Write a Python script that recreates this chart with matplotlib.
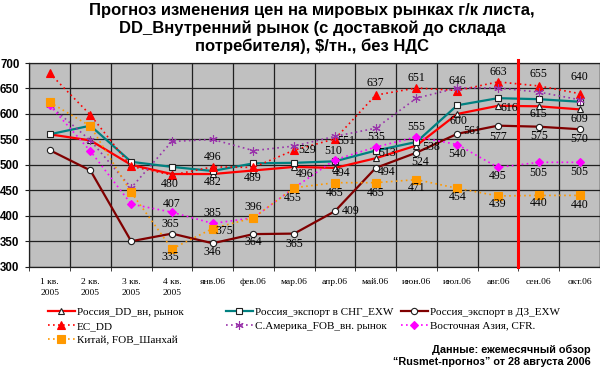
import matplotlib
matplotlib.use("Agg")
import matplotlib.pyplot as plt

# categories (quarters of 2005, then months of 2006)
categories = ['1 кв.\n2005', '2 кв.\n2005', '3 кв.\n2005', '4 кв.\n2005',
              'янв.06', 'фев.06', 'мар.06', 'апр.06', 'май.06', 'июн.06',
              'июл.06', 'авг.06', 'сен.06', 'окт.06']

# prices, $/t
russia_dd = [560, 548, 500, 482, 482, 489, 496, 494, 513, 538, 600, 616, 615, 609]
russia_cis = [560, 577, 506, 496, 488, 503, 504, 507, 528, 545, 617, 631, 629, 624]
russia_far = [529, 489, 350, 365, 346, 364, 365, 409, 494, 524, 561, 577, 575, 570]
ec_dd = [680, 598, 497, 480, 496, 495, 529, 551, 637, 651, 646, 663, 655, 640]
n_america = [617, 548, 455, 546, 550, 528, 537, 556, 572, 631, 651, 651, 643, 628]
east_asia = [617, 527, 423, 407, 385, 396, 455, 510, 535, 555, 540, 495, 505, 505]
china = [623, 576, 446, 335, 375, 396, 455, 465, 465, 471, 454, 439, 440, 440]

# which points get a value label, and where (pixels: dx right, dy down)
lab_dd = {4: (0, 8), 5: (-1, 8), 6: (10, 7), 7: (7, 5), 8: (11, -5), 9: (15, 1),
          10: (1, 7), 11: (11, 2), 12: (0, 8), 13: (0, 10)}
lab_far = {3: (-2, -10), 4: (0, 9), 5: (0, 8), 6: (0, 10), 7: (16, 0), 8: (11, 4),
           9: (4, 9), 10: (15, -3), 11: (0, 11), 12: (0, 9), 13: (0, 10)}
lab_ec = {3: (-2, 9), 4: (0, -10), 6: (13, 0), 7: (11, 2), 8: (0, -12), 9: (0, -10),
          10: (0, -10), 11: (0, -10), 12: (0, -12), 13: (0, -17)}
lab_asia = {3: (0, -8), 4: (0, -10), 7: (-2, -9), 8: (0, -10), 9: (0, -10),
            10: (0, 9), 11: (0, 9), 12: (0, 11), 13: (0, 10)}
lab_china = {3: (-2, 8), 4: (12, 2), 5: (0, -11), 6: (-1, 10), 7: (0, 10), 8: (0, 10),
             9: (0, 8), 10: (0, 9), 11: (0, 8), 12: (0, 8), 13: (0, 10)}

serif = 'Liberation Serif'
sans = 'Liberation Sans'

fig = plt.figure(figsize=(6, 3.73), dpi=100)
ax = fig.add_axes([0.0488, 0.285, 0.951, 0.546])
ax.set_facecolor('#C0C0C0')

x = list(range(len(categories)))
dot = (0, (1, 2))

series = [
    # name, values, color, style, marker, face, edge, size, lw
    ('Россия_DD_вн, рынок', russia_dd, '#FF0000', '-', '^', 'white', '#202020', 5, 1.6),
    ('Россия_экспорт в СНГ_EXW', russia_cis, '#008080', '-', 's', 'white', '#202020', 5, 1.6),
    ('Россия_экспорт в ДЗ_EXW', russia_far, '#800000', '-', 'o', 'white', '#202020', 4.5, 1.6),
    ('EC_DD', ec_dd, '#FF0000', dot, '^', '#FF0000', '#FF0000', 6, 1.2),
    ('С.Америка_FOB_вн. рынок', n_america, '#9933AA', dot, (6, 2, 0), '#9933AA', '#9933AA', 6, 1.2),
    ('Восточная Азия, CFR.', east_asia, '#FF00FF', dot, 'D', '#FF00FF', '#FF00FF', 4.5, 1.2),
    ('Китай, FOB_Шанхай', china, '#FF9900', dot, 's', '#FF9900', '#FF9900', 6, 1.2),
]

handles = []
for name, vals, col, ls, mk, fc, ec, ms, lw in series:
    h, = ax.plot(x, vals, color=col, linestyle=ls, linewidth=lw, marker=mk,
                 markerfacecolor=fc, markeredgecolor=ec, markersize=ms,
                 markeredgewidth=0.8, label=name, zorder=3)
    handles.append(h)

# value labels
for vals, labs in [(russia_dd, lab_dd), (russia_far, lab_far), (ec_dd, lab_ec),
                   (east_asia, lab_asia), (china, lab_china)]:
    for i, (dx, dy) in labs.items():
        ax.annotate(str(vals[i]), (i, vals[i]), xytext=(dx, -dy),
                    textcoords='offset pixels', ha='center', va='center',
                    fontsize=8.5, family=serif, zorder=5)

# forecast boundary
ax.axvline(11.5, ymin=0, ymax=1.016, color='#FF0000', linewidth=2.2,
           clip_on=False, zorder=4)

ax.set_xlim(-0.5, len(categories) - 0.5)
ax.set_ylim(300, 700)
ax.set_yticks(range(300, 701, 50))
ax.set_yticklabels([str(v) for v in range(300, 701, 50)], fontsize=8.3,
                   fontweight='bold', family=sans)
ax.set_xticks(x)
ax.set_xticklabels(categories, fontsize=6.8, family=serif, linespacing=1.5)
ax.set_xticks([k + 0.5 for k in range(-1, len(categories))], minor=True)
ax.tick_params(axis='x', which='major', length=0, pad=8)
ax.tick_params(axis='x', which='minor', length=3, color='#202020')
ax.tick_params(axis='y', length=3, pad=4, color='#202020')
ax.grid(True, axis='y', which='major', color='#202020', linewidth=0.9)
ax.grid(True, axis='x', which='minor', color='#202020', linewidth=0.9)
ax.set_axisbelow(True)
for s in ax.spines.values():
    s.set_color('#202020')
    s.set_linewidth(0.9)

fig.text(0.52, 0.992, 'Прогноз изменения цен на мировых рынках г/к листа,\n'
         'DD_Внутренний рынок (с доставкой до склада\n'
         'потребителя), $/тн., без НДС',
         ha='center', va='top', fontsize=12, fontweight='bold', family=sans,
         linespacing=1.2)

# legend in three columns like the original
cols = [([handles[0], handles[3], handles[6]], 48),
        ([handles[1], handles[4]], 226),
        ([handles[2], handles[5]], 401)]
for hs, left in cols:
    leg = fig.legend(handles=hs, loc='upper left',
                     bbox_to_anchor=(left / 600, 1 - 307 / 373),
                     frameon=False, prop={'family': serif, 'size': 8},
                     handlelength=2.4, handletextpad=0.2, labelspacing=0.38,
                     borderpad=0, borderaxespad=0)

fig.text(591 / 600, 1 - 356 / 373, 'Данные: ежемесячный обзор\n'
         '“Rusmet-прогноз” от 28 августа 2006',
         ha='right', va='center', fontsize=7.8, fontweight='bold', family=sans,
         linespacing=1.3)

fig.savefig('out.png', dpi=100)
